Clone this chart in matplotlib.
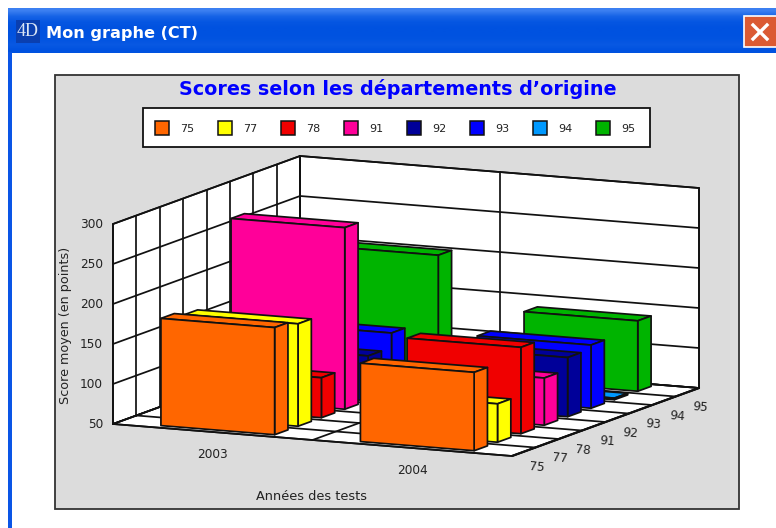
import matplotlib
matplotlib.use("Agg")
import matplotlib.pyplot as plt
import numpy as np
from matplotlib.patches import Polygon, Rectangle

WINDOW_TITLE = "Mon graphe (CT)"
CHART_TITLE = "Scores selon les départements d’origine"
X_LABEL = "Années des tests"
Y_LABEL = "Score moyen (en points)"

YEARS = ["2003", "2004"]
DEPTS = ["75", "77", "78", "91", "92", "93", "94", "95"]
SCORES_2003 = [184, 178, 100, 277, 106, 124, 52, 200]
SCORES_2004 = [148, 98, 158, 109, 124, 129, 52, 138]
Y_TICKS = [50, 100, 150, 200, 250, 300]
COLORS = ["#FF6600", "#FFFF00", "#F00000", "#FF0099", "#000099", "#0000FF", "#0099FF", "#00B400"]

W, H = 776, 528
EDGE = "#111111"
TEXT = "#222222"
LW = 1.25
BAR_FRAC = 0.57

# oblique projection of the box, in pixels
ORIGIN = np.array([113.0, 424.0])
X_VEC = np.array([399.0, 32.0])
Y_VEC = np.array([187.0, -68.0])
Z_SPAN = 200.0


def project(year_pos, dept_pos, score=50.0):
    # year_pos in 0..2, dept_pos in 0..8, score in 50..300
    p = ORIGIN + X_VEC * year_pos / len(YEARS) + Y_VEC * dept_pos / len(DEPTS)
    p[1] -= (score - Y_TICKS[0]) / (Y_TICKS[-1] - Y_TICKS[0]) * Z_SPAN
    return p


def face(ax, pts, color, z, lw=LW):
    ax.add_patch(Polygon(pts, closed=True, facecolor=color, edgecolor=EDGE, linewidth=lw, joinstyle="round", zorder=z))


def line(ax, a, b, z=3, lw=LW):
    ax.plot([a[0], b[0]], [a[1], b[1]], color=EDGE, linewidth=lw, solid_capstyle="round", zorder=z)


def draw_window(ax):
    ax.add_patch(Rectangle((0, 0), W, H, facecolor="white", edgecolor="none", zorder=0))
    grad = np.array([[0.55], [0.2], [0.05], [0.0], [0.0], [0.02], [0.08], [0.0]])
    c0 = np.array([0x00, 0x52, 0xE0]) / 255
    c1 = np.array([0x6C, 0xA4, 0xFF]) / 255
    img = (c0 + (c1 - c0) * grad[:, :, None])
    ax.imshow(img, extent=(8, W, 53, 8), aspect="auto", interpolation="bilinear", zorder=0.5)
    ax.add_patch(Rectangle((8, 52), 4, H - 52, facecolor="#0A55E6", edgecolor="none", zorder=0.6))
    # close button
    ax.add_patch(Rectangle((744, 16), 34, 31, facecolor="#DB5A33", edgecolor="white", linewidth=1.2, zorder=1))
    ax.plot([753, 767], [25, 39], color="white", linewidth=2.4, zorder=1.1)
    ax.plot([767, 753], [25, 39], color="white", linewidth=2.4, zorder=1.1)
    # 4D icon
    ax.add_patch(Rectangle((16, 20), 24, 23, facecolor="#0A3FB0", edgecolor="none", zorder=1))
    ax.text(28, 31, "4D", color="#DCE6F5", fontsize=13, family="Liberation Serif", ha="center", va="center", zorder=1.1)
    ax.text(46, 33.5, WINDOW_TITLE, color="white", fontsize=11.6, fontweight="bold", family="DejaVu Sans",
            ha="left", va="center", zorder=1.1)


def draw_legend(ax):
    ax.add_patch(Rectangle((142.5, 108), 507.5, 39, facecolor="white", edgecolor=EDGE, linewidth=1.3, zorder=2))
    for i, (dept, color) in enumerate(zip(DEPTS, COLORS)):
        x = 154.5 + i * 63.0
        ax.add_patch(Rectangle((x, 121), 14.5, 14, facecolor=color, edgecolor=EDGE, linewidth=1.1, zorder=3))
        ax.text(x + 25.5, 128.5, dept, fontsize=8, ha="left", va="center", color=TEXT, zorder=3)


def draw_box(ax):
    ny, nd = len(YEARS), len(DEPTS)
    top = Y_TICKS[-1]
    bottom = Y_TICKS[0]
    face(ax, [project(0, 0, bottom), project(0, nd, bottom), project(0, nd, top), project(0, 0, top)], "white", 3)
    face(ax, [project(0, nd, bottom), project(ny, nd, bottom), project(ny, nd, top), project(0, nd, top)], "white", 3)
    face(ax, [project(0, 0, bottom), project(ny, 0, bottom), project(ny, nd, bottom), project(0, nd, bottom)], "white", 3)
    for tick in Y_TICKS:
        line(ax, project(0, 0, tick), project(0, nd, tick), 3.1)
        line(ax, project(0, nd, tick), project(ny, nd, tick), 3.1)
        ax.text(project(0, 0, tick)[0] - 10, project(0, 0, tick)[1], str(tick), fontsize=8.7, ha="right",
                va="center", color=TEXT, zorder=3)
    for d in range(nd + 1):
        line(ax, project(0, d), project(ny, d), 3.1)
        line(ax, project(0, d), project(0, d, top), 3.1)
    for y in range(ny + 1):
        line(ax, project(y, 0), project(y, nd), 3.1)
        line(ax, project(y, nd), project(y, nd, top), 3.1)
    line(ax, project(ny, 0), project(ny, nd), 3.1, lw=1.6)


def draw_bars(ax):
    margin = (1 - BAR_FRAC) / 2
    z = 4.0
    for y, scores in enumerate([SCORES_2003, SCORES_2004]):
        for d in range(len(DEPTS) - 1, -1, -1):
            x0, x1 = y + margin, y + 1 - margin
            d0, d1 = d + margin, d + 1 - margin
            s = scores[d]
            base = Y_TICKS[0]
            color = COLORS[d]
            face(ax, [project(x0, d0, s), project(x1, d0, s), project(x1, d1, s), project(x0, d1, s)], color, z)
            face(ax, [project(x1, d0, base), project(x1, d1, base), project(x1, d1, s), project(x1, d0, s)], color, z)
            face(ax, [project(x0, d0, base), project(x1, d0, base), project(x1, d0, s), project(x0, d0, s)], color, z)
            z += 0.01


def draw_labels(ax):
    for i, year in enumerate(YEARS):
        p = project(i + 0.5, 0)
        ax.text(p[0], p[1] + 23, year, fontsize=8.7, ha="center", va="center", color=TEXT, zorder=3)
    for i, dept in enumerate(DEPTS):
        p = project(len(YEARS), i + 0.5)
        ax.text(p[0] + 13, p[1] + 15, dept, fontsize=8.7, ha="center", va="center", rotation=-5,
                rotation_mode="anchor", color=TEXT, zorder=3)
    ax.text(311, 496, X_LABEL, fontsize=9.3, ha="center", va="center", color=TEXT, zorder=3)
    ax.text(66, 325, Y_LABEL, fontsize=9.2, ha="center", va="center", rotation=90, color=TEXT, zorder=3)


def main():
    fig = plt.figure(figsize=(W / 100, H / 100), dpi=100)
    ax = fig.add_axes([0, 0, 1, 1])
    ax.set_axis_off()
    draw_window(ax)
    ax.add_patch(Rectangle((54.5, 75), 684.5, 434, facecolor="#DCDCDC", edgecolor="#333333", linewidth=1.3, zorder=1.5))
    ax.text(398, 89, CHART_TITLE, color="#0000FF", fontsize=13.8, fontweight="bold", ha="center", va="center", zorder=3)
    draw_legend(ax)
    draw_box(ax)
    draw_bars(ax)
    draw_labels(ax)
    ax.set_xlim(0, W)
    ax.set_ylim(H, 0)
    fig.savefig("out.png", dpi=100, facecolor="white")


if __name__ == "__main__":
    main()
